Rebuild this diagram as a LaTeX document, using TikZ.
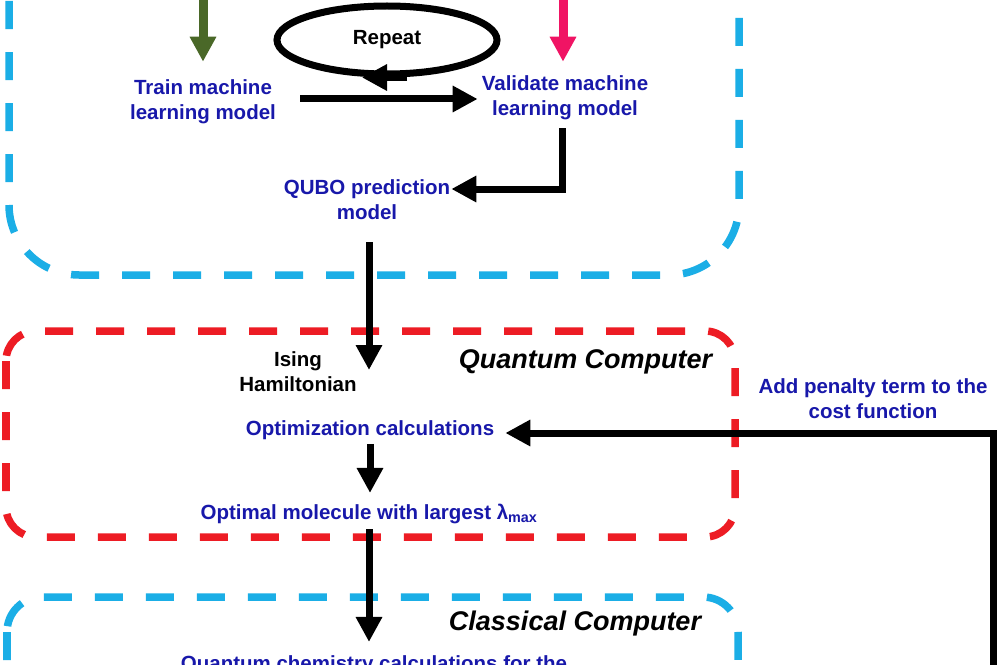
\documentclass[tikz,border=0pt]{standalone}
\usepackage{fontspec}
\setmainfont{Liberation Sans}
\usetikzlibrary{arrows.meta,shapes.geometric,calc}
\definecolor{qblue}{RGB}{24,24,170}
\definecolor{boxblue}{RGB}{27,174,230}
\definecolor{boxred}{RGB}{237,28,36}
\definecolor{qgreen}{RGB}{74,104,40}
\definecolor{qpink}{RGB}{240,20,100}
\begin{document}
\begin{tikzpicture}[x=1bp,y=-1bp,
  lbl/.style={font=\bfseries\fontsize{20.5bp}{25bp}\selectfont, text=qblue, align=center, inner sep=0pt},
  blk/.style={font=\bfseries\fontsize{20.5bp}{25bp}\selectfont, text=black, align=center, inner sep=0pt},
  boxtitle/.style={font=\bfseries\itshape\fontsize{27bp}{32bp}\selectfont, text=black, inner sep=0pt, anchor=base},
  barrow/.style={draw=black, line width=7bp, -{Triangle[length=25bp,width=25bp]}},
  carrow/.style={line width=9bp, -{Triangle[length=25bp,width=25bp]}},
  dbox/.style={line width=7.5bp, dash pattern=on 28bp off 23bp},
]
\useasboundingbox (0,0) rectangle (998,665);
\clip (0,0) rectangle (998,665);
\fill[white] (0,0) rectangle (998,665);

% dashed frames
\draw[dbox, boxblue, rounded corners=70bp] (9,-120) rectangle (739,275);
\draw[dbox, boxred, rounded corners=30bp] (6,331) rectangle (735,537);
\draw[dbox, boxblue, rounded corners=35bp] (7,597) rectangle (738,780);

% nodes
\node[lbl] (train) at (203,102) {Train machine\\learning model};
\node[lbl] (valid) at (565,98) {Validate machine\\learning model};
\node[blk, draw, ellipse, line width=7bp, minimum width=220bp, minimum height=68bp] (rep) at (387,40) {Repeat};
\node[lbl] (qubo) at (367,200) {QUBO prediction\\model};
\node[blk] (ising) at (298,372) {Ising\\Hamiltonian};
\node[lbl] (opt) at (370,430) {Optimization calculations};
\node[lbl] (optmol) at (369,514) {Optimal molecule with largest λ\textsubscript{max}};
\node[lbl] (pen) at (873,399) {Add penalty term to the\\cost function};
\node[boxtitle] (qc) at (585.5,368) {Quantum Computer};
\node[boxtitle] (cc) at (575,630) {Classical Computer};
\node[lbl, anchor=base] (qchem) at (374,670) {Quantum chemistry calculations for the};

% coordinates
\coordinate (gtop) at (203,-20);
\coordinate (ptop) at (563,-20);
\coordinate (isingtip) at (369,370);
\coordinate (pen0) at (993,700);

% connectors
\draw[carrow, qgreen, shorten >=18bp] (gtop) -- (gtop |- train.north);
\draw[carrow, qpink, shorten >=14bp] (ptop) -- (ptop |- valid.north);
\draw[barrow] ($(rep.south)+(20,0)$) -- ($(rep.south)+(-25,0)$);
\draw[barrow, shorten <=24bp, shorten >=4bp] ($(train.east)+(0,-3)$) -- ($(train.east -| valid.west)+(0,-3)$);
\draw[barrow, shorten <=8bp, shorten >=1bp] ($(valid.south)+(-3,0)$) |- ($(qubo.east)+(0,-11)$);
\draw[barrow, shorten <=22bp] (qubo.south -| isingtip) -- (isingtip);
\draw[barrow, shorten <=4bp, shorten >=11bp] (opt.south) -- (opt.south |- optmol.north);
\draw[barrow, shorten <=5bp, shorten >=13bp] (optmol.south) -- (optmol.south |- qchem.north);
\draw[barrow, shorten >=11bp] (pen0) |- ($(opt.east)+(0,3)$);
\end{tikzpicture}
\end{document}
